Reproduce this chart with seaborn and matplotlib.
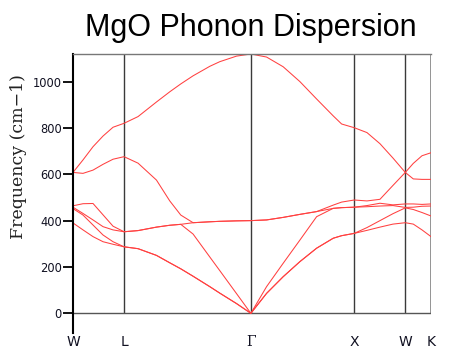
import numpy as np
import pandas as pd
import matplotlib
matplotlib.use("Agg")
import matplotlib.pyplot as plt
import seaborn as sns

# High-symmetry path
path_labels = ["W", "L", "Γ", "X", "W", "K"]
path_pos = [0, 51, 177.7, 281, 332, 357.7]

# q-point path coordinate
q = [0, 10, 20, 30, 40, 51, 65, 83.4, 96.7, 107.7, 120, 136.7, 146.7, 163.4, 177.7,
     193.4, 210, 226.7, 243.4, 260, 268.4, 281, 293.7, 306.7, 319.7, 332, 340, 348.7, 357.7]

# phonon bands (cm-1), sorted per q-point
band1 = [390, 360, 331, 309, 298, 287, 279, 250, 218, 192, 160, 115, 87, 42, 0,
         86, 158, 223, 281, 324, 335, 345, 358, 372, 385, 391, 385, 360, 331]
band2 = [452, 424, 381, 338, 309, 287, 279, 250, 218, 192, 160, 115, 87, 42, 0,
         86, 158, 223, 281, 324, 335, 345, 370, 400, 430, 455, 448, 435, 420]
band3 = [458, 431, 403, 374, 360, 352, 357, 372, 380, 384, 342, 243, 184, 85, 0,
         115, 216, 316, 417, 453, 456, 458, 460, 463, 465, 457, 458, 462, 463]
band4 = [464, 473, 474, 425, 376, 352, 357, 372, 380, 384, 391, 395, 397, 399, 400,
         403, 414, 427, 439, 453, 456, 458, 465, 475, 468, 472, 472, 470, 472]
band5 = [608, 604, 618, 643, 665, 676, 648, 575, 485, 424, 391, 395, 397, 399, 400,
         403, 414, 427, 439, 467, 480, 489, 485, 492, 552, 608, 580, 578, 578]
band6 = [608, 662, 719, 765, 803, 820, 849, 912, 956, 990, 1025, 1066, 1086, 1110, 1119,
         1106, 1064, 1000, 925, 852, 817, 801, 780, 732, 670, 608, 647, 680, 693]

y_ticks = [0, 200, 400, 600, 800, 1000]

bands = [band1, band2, band3, band4, band5, band6]
df = pd.DataFrame({
    "q": q * len(bands),
    "freq": sum(bands, []),
    "band": np.repeat(np.arange(len(bands)), len(q)),
})

sns.set_theme(style="white")
plt.rcParams["font.family"] = ["DejaVu Sans"]

fig = plt.figure(figsize=(4.5, 3.58), dpi=100)
ax = fig.add_axes([0.1622, 0.0698, 0.7956, 0.7793])

sns.lineplot(data=df, x="q", y="freq", units="band", estimator=None,
             color="#ff4040", lw=0.75, ax=ax, legend=False, sort=False)

ymax = max(band6)
ax.set_xlim(path_pos[0], path_pos[-1])
ax.set_ylim(-85, ymax)

ax.vlines(path_pos[1:-1], 0, ymax, color="#3a3a3a", lw=1.0, zorder=1)
ax.vlines(path_pos[-1], 0, ymax, color="#8a8a8a", lw=2.0, zorder=1)
ax.hlines(0, path_pos[0], path_pos[-1], color="#555555", lw=1.0, zorder=1)

ax.spines["bottom"].set_visible(False)
ax.spines["right"].set_visible(False)
ax.spines["top"].set_color("#777777")
ax.spines["top"].set_linewidth(1.0)
ax.spines["left"].set_color("black")
ax.spines["left"].set_linewidth(1.5)

ax.set_yticks(y_ticks)
ax.tick_params(axis="y", left=True, length=7, width=1.3, color="black",
               labelsize=8.3, pad=1, labelcolor="#111122")
ax.set_xticks(path_pos)
ax.set_xticklabels(path_labels)
ax.tick_params(axis="x", bottom=False, length=0, labelsize=10, pad=1.5,
               labelcolor="#111122")
ax.get_xticklabels()[2].set_fontfamily("DejaVu Serif")

ax.set_xlabel("")
ax.set_ylabel("Frequency (cm−1)", fontfamily="DejaVu Serif", fontsize=12.5,
              color="#222222")
ax.yaxis.set_label_coords(-0.129, 0.631)

fig.text(0.558, 1 - 36 / 358, "MgO Phonon Dispersion", ha="center", va="baseline",
         fontsize=22, fontfamily="Liberation Sans", color="black")

fig.savefig("out.png", dpi=100)
